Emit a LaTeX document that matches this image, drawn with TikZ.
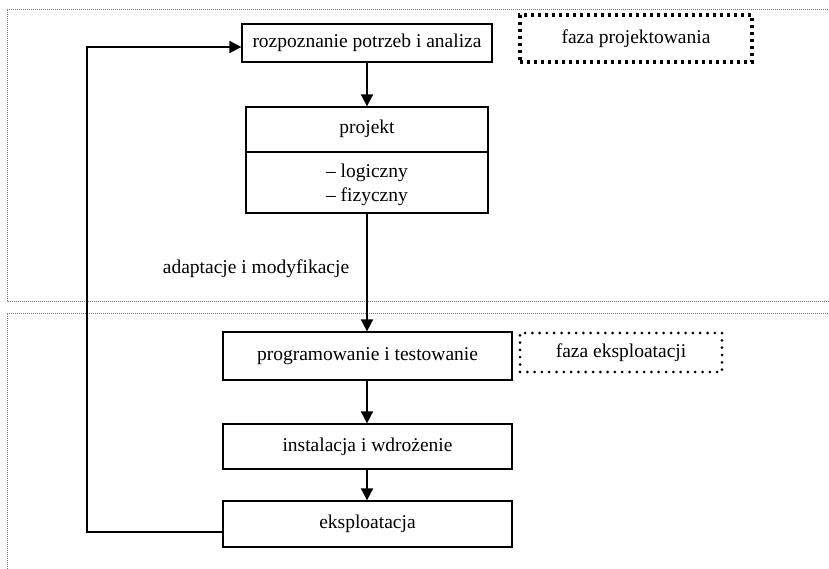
\documentclass[tikz,border=0pt]{standalone}
\usepackage{fontspec}
\setmainfont{Liberation Serif}
\usetikzlibrary{arrows.meta}
\begin{document}
\begin{tikzpicture}[x=1pt,y=-1pt,
  font=\fontsize{19.5}{24}\selectfont,
  box/.style={draw, line width=1.3pt, inner sep=0pt, align=center},
  flow/.style={line width=1.9pt, -{Triangle[width=12pt,length=12pt]}},
  phaseframe/.style={draw=black!55, line width=0.8pt, dash pattern=on 1pt off 1pt},
  squaredots/.style={draw, line width=3.2pt, dash pattern=on 3.2pt off 3.8pt, inner sep=0pt},
  rounddots/.style={draw, line width=3pt, line cap=round, dash pattern=on 0pt off 7.3pt, inner sep=0pt}]
\useasboundingbox (0,0) rectangle (829,569);

% phase frames (open on the right / bottom)
\draw[phaseframe] (840,9) -- (7,9) -- (7,301) -- (840,301);
\draw[phaseframe] (840,313) -- (7,313) -- (7,580);

% phase labels
\node[squaredots, minimum width=232pt, minimum height=47pt] (fp) at (636,38.5) {faza projektowania};
\node[rounddots, minimum width=202pt, minimum height=39pt] (fe) at (621,352.5) {faza eksploatacji};

% process steps
\node[box, minimum width=250pt, minimum height=38pt] (rozp) at (367,43) {rozpoznanie potrzeb i analiza};
\node[box, minimum width=242pt, minimum height=106pt] (proj) at (367,160) {};
\draw[line width=1.3pt] (proj.west |- 0,152) -- (proj.east |- 0,152);
\node (projt) at (367,129) {projekt};
\node[align=left, inner sep=0pt] (projl) at (367,185) {-- logiczny\\-- fizyczny};
\node[box, minimum width=289pt, minimum height=48pt] (prog) at (367.5,356) {programowanie i testowanie};
\node[box, minimum width=289pt, minimum height=45pt] (inst) at (367.5,446.5) {instalacja i wdrożenie};
\node[box, minimum width=289pt, minimum height=46pt] (eksp) at (367.5,524) {eksploatacja};

% connectors
\draw[flow] (rozp) -- (proj);
\draw[flow] (proj.south) -- (proj.south |- prog.north);
\node (adapt) at (256,269) {adaptacje i modyfikacje};
\draw[flow] (prog.south -| proj.south) -- (inst.north -| proj.south);
\draw[flow] (inst.south -| proj.south) -- (eksp.north -| proj.south);
\coordinate (fb) at (87,300);
\draw[flow] ([yshift=-8pt]eksp.west) -| (fb) |- ([yshift=-4pt]rozp.west);
\end{tikzpicture}
\end{document}
